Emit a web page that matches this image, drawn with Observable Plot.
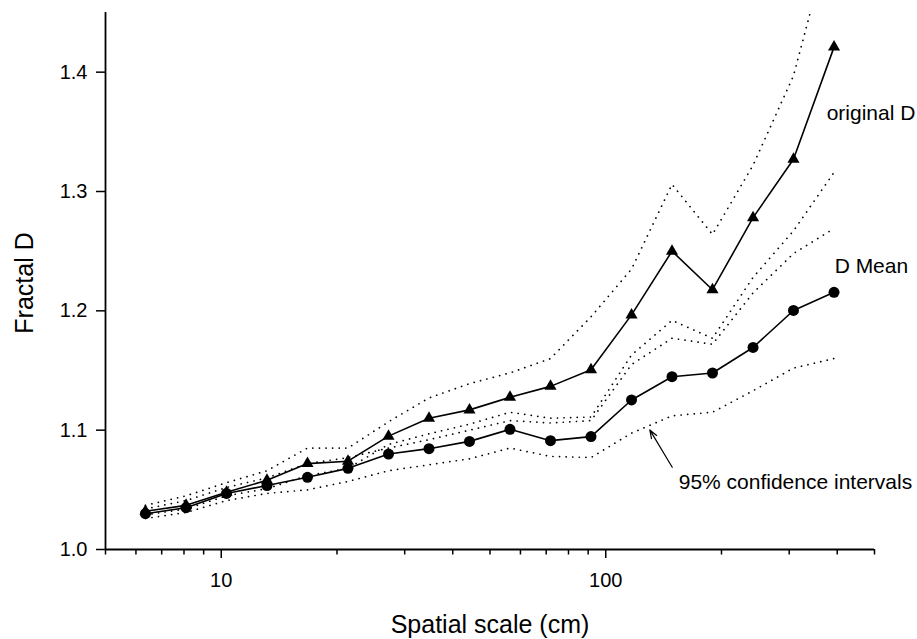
<!DOCTYPE html>
<html><head><meta charset="utf-8">
<script src="https://cdn.jsdelivr.net/npm/d3@7"></script>
<script src="https://cdn.jsdelivr.net/npm/@observablehq/plot@0.6"></script>
<style>html,body{margin:0;padding:0;background:#fff} svg{display:block}</style>
</head><body><div id="chart"></div>
<script>
// Spatial scale (cm)
const scale = [6.35, 8.10, 10.32, 13.15, 16.76, 21.36, 27.23, 34.70, 44.22, 56.36, 71.83, 91.55, 116.7, 148.7, 189.5, 241.6, 307.8, 392.4];
// original D (triangles)
const originalD = [1.032, 1.037, 1.048, 1.058, 1.072, 1.074, 1.095, 1.110, 1.117, 1.1275, 1.1367, 1.1506, 1.1966, 1.2500, 1.2177, 1.2781, 1.327, 1.421];
// D Mean (circles)
const meanD = [1.030, 1.035, 1.047, 1.0536, 1.0605, 1.068, 1.080, 1.0845, 1.0906, 1.1007, 1.0912, 1.0946, 1.1253, 1.1448, 1.1479, 1.1693, 1.2003, 1.2155];
// 95% confidence intervals
const ciOrigHigh = [1.037, 1.045, 1.056, 1.066, 1.085, 1.085, 1.107, 1.127, 1.139, 1.148, 1.160, 1.195, 1.235, 1.306, 1.264, 1.322, 1.397, 1.525];
const ciOrigLow  = [1.029, 1.034, 1.045, 1.051, 1.062, 1.068, 1.088, 1.097, 1.105, 1.115, 1.110, 1.111, 1.163, 1.192, 1.177, 1.228, 1.267, 1.316];
const ciMeanHigh = [1.034, 1.041, 1.052, 1.060, 1.072, 1.077, 1.085, 1.092, 1.100, 1.108, 1.106, 1.108, 1.155, 1.177, 1.172, 1.215, 1.248, 1.269];
const ciMeanLow  = [1.026, 1.031, 1.041, 1.047, 1.050, 1.057, 1.066, 1.071, 1.076, 1.085, 1.078, 1.077, 1.0975, 1.112, 1.115, 1.133, 1.152, 1.160];

const yTicks = [1.0, 1.1, 1.2, 1.3, 1.4];
const xMajorTicks = [10, 100];
const xMinorTicks = [5, 6, 7, 8, 9, 20, 30, 40, 50, 60, 70, 80, 90, 200, 300, 400, 500];

const annotations = [
  {text: "original D", x: 375.4, y: 1.3652},
  {text: "D Mean", x: 393.8, y: 1.2372},
  {text: "95% confidence intervals", x: 154.8, y: 1.0564}
];
const arrows = [{x1: 148.9, y1: 1.0689, x2: 130.2, y2: 1.1002}];

const rows = scale.map((x, i) => ({
  x, orig: originalD[i], mean: meanD[i],
  oh: ciOrigHigh[i], ol: ciOrigLow[i], mh: ciMeanHigh[i], ml: ciMeanLow[i]
}));

const font = "'Liberation Sans', Arial, Helvetica, sans-serif";
const dotted = {stroke: "#000", strokeWidth: 1.7, strokeDasharray: "0.1,6.5", strokeLinecap: "round", clip: true};

const chart = Plot.plot({
  width: 917, height: 639,
  marginLeft: 105, marginRight: 43, marginTop: 12, marginBottom: 90,
  style: {fontFamily: font, background: "#fff", color: "#000"},
  x: {type: "log", domain: [5, 500]},
  y: {domain: [1.0, 1.45]},
  marks: [
    Plot.axisY(yTicks, {tickSize: 9, tickPadding: 9, tickFormat: d3.format(".1f"), fontSize: 20, label: null, strokeWidth: 1.5}),
    Plot.axisX(xMinorTicks, {tickSize: 5.5, tickFormat: () => "", label: null, strokeWidth: 1.5}),
    Plot.axisX(xMajorTicks, {tickSize: 9, tickPadding: 14, tickFormat: d => String(d), fontSize: 20, label: null, strokeWidth: 1.5}),
    Plot.ruleY([1.0], {stroke: "#000", strokeWidth: 1.8}),
    Plot.ruleX([5], {stroke: "#000", strokeWidth: 1.8}),
    Plot.line(rows, {x: "x", y: "oh", ...dotted}),
    Plot.line(rows, {x: "x", y: "ol", ...dotted}),
    Plot.line(rows, {x: "x", y: "mh", ...dotted}),
    Plot.line(rows, {x: "x", y: "ml", ...dotted}),
    Plot.line(rows, {x: "x", y: "orig", stroke: "#000", strokeWidth: 1.6}),
    Plot.line(rows, {x: "x", y: "mean", stroke: "#000", strokeWidth: 1.6}),
    Plot.dot(rows, {x: "x", y: "orig", symbol: "triangle", r: 4.5, fill: "#000"}),
    Plot.dot(rows, {x: "x", y: "mean", r: 5.5, fill: "#000"}),
    Plot.text(annotations, {x: "x", y: "y", text: "text", textAnchor: "start", lineAnchor: "middle", fontSize: 21, fill: "#000"}),
    Plot.arrow(arrows, {x1: "x1", y1: "y1", x2: "x2", y2: "y2", stroke: "#000", strokeWidth: 1.2, headLength: 11, headAngle: 40}),
    Plot.text(["Spatial scale (cm)"], {text: d => d, frameAnchor: "bottom", textAnchor: "middle", lineAnchor: "middle", dy: 75, fontSize: 25, fill: "#000"}),
    Plot.text(["Fractal D"], {text: d => d, frameAnchor: "left", textAnchor: "middle", lineAnchor: "middle", rotate: -90, dx: -81, dy: 2, fontSize: 25, fill: "#000"})
  ]
});
document.getElementById("chart").appendChild(chart);
</script>
</body></html>
